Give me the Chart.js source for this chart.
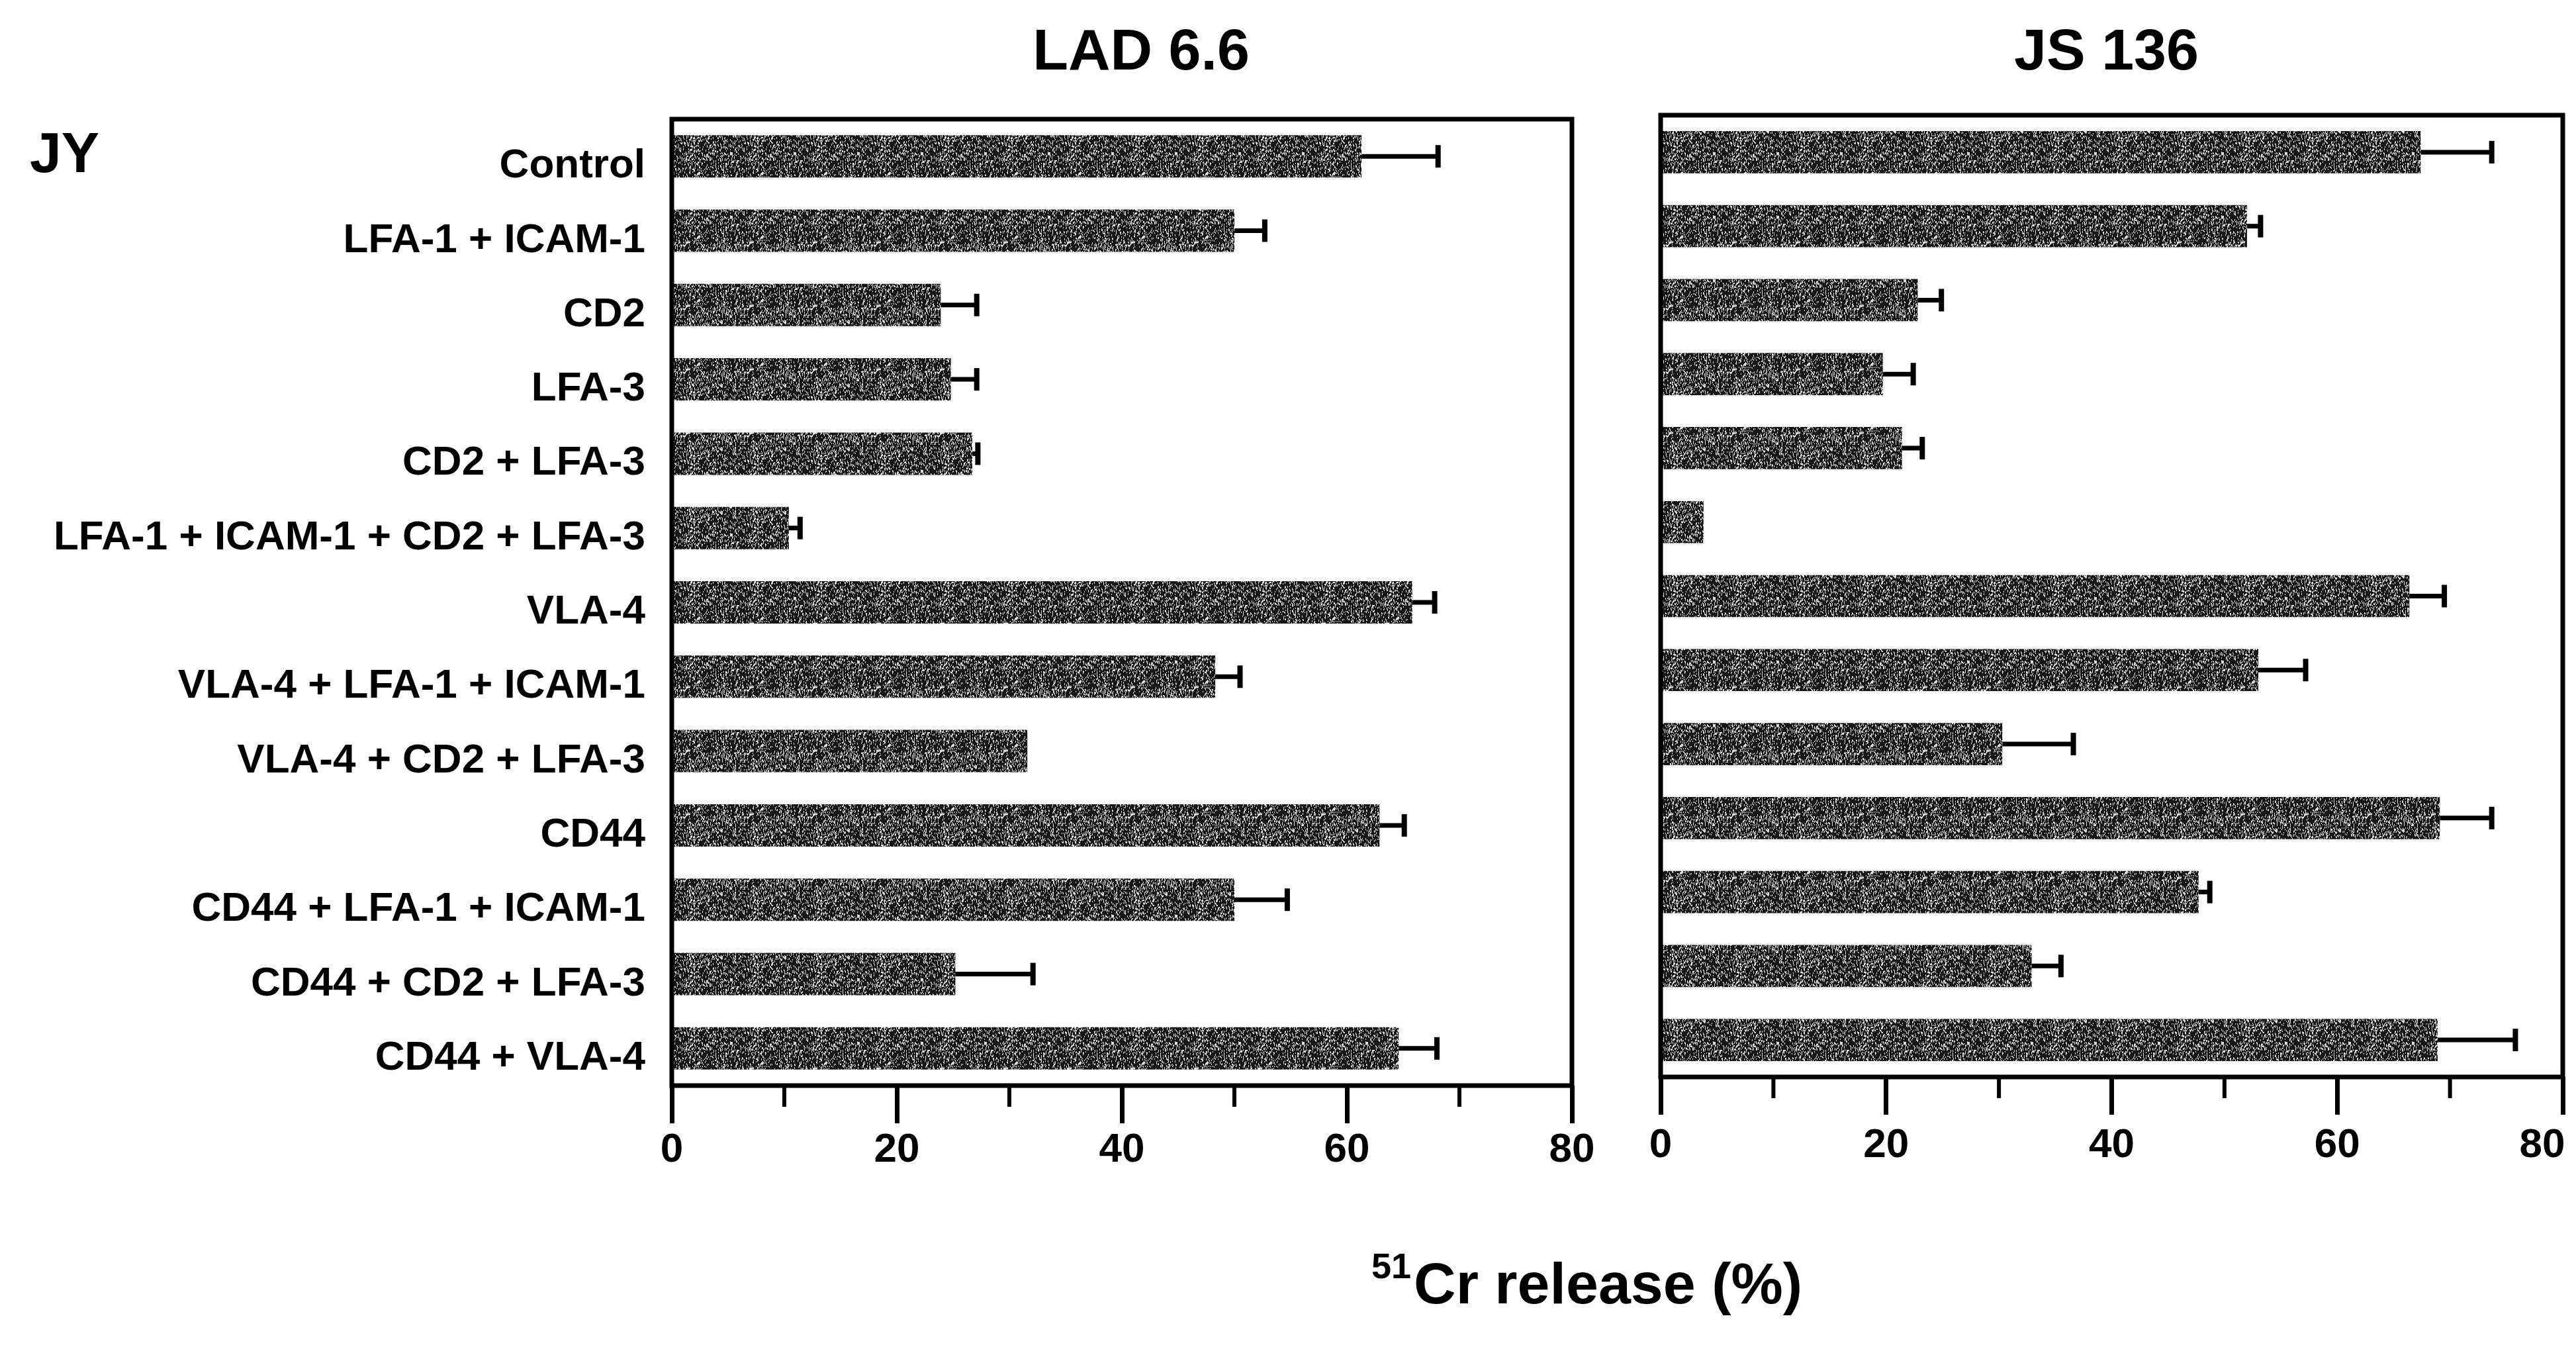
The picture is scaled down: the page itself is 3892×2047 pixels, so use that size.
<!DOCTYPE html>
<html>
<head>
<meta charset="utf-8">
<script src="https://cdn.jsdelivr.net/npm/chart.js@4.4.1/dist/chart.umd.min.js"></script>
<style>
  html, body { margin: 0; padding: 0; background: #ffffff; }
  #wrap { position: relative; width: 3892px; height: 2047px; overflow: hidden; background: #fff; }
  canvas { position: absolute; top: 0; }
  #jy { position: absolute; left: 45px; top: 187px; font: bold 86px/86px 'Liberation Sans', Arial, sans-serif; color: #000; }
  #xt { position: absolute; left: 2072px; top: 1895px; font: bold 88px/88px 'Liberation Sans', Arial, sans-serif; color: #000; white-space: nowrap; }
  #xt span { font-size: 54px; position: relative; top: -38px; margin-right: 4px; }
</style>
</head>
<body>
<div id="wrap">
  <canvas id="c1" width="2445" height="2047" style="left:0px;width:2445px;height:2047px"></canvas>
  <canvas id="c2" width="1447" height="2047" style="left:2445px;width:1447px;height:2047px"></canvas>
  <div id="jy">JY</div>
  <div id="xt"><span>51</span>Cr release (%)</div>
</div>
<script>
// ---------------- data ----------------
const categories = [
  'Control',
  'LFA-1 + ICAM-1',
  'CD2',
  'LFA-3',
  'CD2 + LFA-3',
  'LFA-1 + ICAM-1 + CD2 + LFA-3',
  'VLA-4',
  'VLA-4 + LFA-1 + ICAM-1',
  'VLA-4 + CD2 + LFA-3',
  'CD44',
  'CD44 + LFA-1 + ICAM-1',
  'CD44 + CD2 + LFA-3',
  'CD44 + VLA-4'
];
const panelTitles = ['LAD 6.6', 'JS 136'];
const ladValues = [61.3, 50.0, 23.9, 24.8, 26.7, 10.4, 65.8, 48.3, 31.6, 62.9, 50.0, 25.2, 64.6];
const ladErrors = [6.8, 2.7, 3.2, 2.3, 0.5, 1.0, 2.0, 2.2, 0.0, 2.2, 4.7, 6.9, 3.4];
const jsValues  = [67.4, 52.0, 22.8, 19.7, 21.4, 3.8, 66.4, 53.0, 30.3, 69.1, 47.7, 32.9, 68.9];
const jsErrors  = [6.3, 1.2, 2.1, 2.7, 1.8, 0.0, 3.1, 4.2, 6.3, 4.6, 1.0, 2.6, 6.9];
const xTickValues = [0, 10, 20, 30, 40, 50, 60, 70, 80];
const xTickLabels = ['0', '', '20', '', '40', '', '60', '', '80'];
const xMin = 0, xMax = 80;

// ---------------- style helpers ----------------
const FONT = "'Liberation Sans', Arial, Helvetica, sans-serif";

function makePattern() {
  const c = document.createElement('canvas');
  c.width = 96; c.height = 96;
  const g = c.getContext('2d');
  g.fillStyle = '#161616';
  g.fillRect(0, 0, 96, 96);
  g.fillStyle = '#dcdcdc';
  for (let y = 0; y < 96; y++) {
    for (let x = 0; x < 96; x++) {
      let h = Math.imul(x + 17, 374761393) ^ Math.imul(y + 31, 668265263);
      h = Math.imul(h ^ (h >>> 13), 1274126177);
      h = (h ^ (h >>> 16)) >>> 0;
      if (h % 100 < 11) g.fillRect(x, y, 1, 2 + (h % 2));
    }
  }
  return g.createPattern(c, 'repeat');
}

const panelPlugin = {
  id: 'panelDeco',
  afterDatasetsDraw(chart, args, opts) {
    const ctx = chart.ctx;
    const xs = chart.scales.x, ys = chart.scales.y;
    const ca = chart.chartArea;
    ctx.save();
    ctx.strokeStyle = '#000';
    ctx.lineCap = 'butt';
    // error bars (positive side only)
    const vals = opts.values, errs = opts.errors;
    for (let i = 0; i < vals.length; i++) {
      if (!errs[i]) continue;
      const x0 = xs.getPixelForValue(vals[i]);
      const x1 = xs.getPixelForValue(vals[i] + errs[i]);
      const y = ys.getPixelForValue(i);
      ctx.lineWidth = 7;
      ctx.beginPath(); ctx.moveTo(x0, y); ctx.lineTo(x1, y); ctx.stroke();
      ctx.lineWidth = 8;
      ctx.beginPath(); ctx.moveTo(x1, y - 17); ctx.lineTo(x1, y + 17); ctx.stroke();
    }
    // frame
    ctx.lineWidth = 7;
    ctx.strokeRect(ca.left, ca.top, ca.right - ca.left, ca.bottom - ca.top);
    // minor ticks
    ctx.lineWidth = 6;
    xTickValues.forEach((v, i) => {
      if (xTickLabels[i] !== '') return;
      const x = xs.getPixelForValue(v);
      ctx.beginPath(); ctx.moveTo(x, ca.bottom); ctx.lineTo(x, ca.bottom + 32); ctx.stroke();
    });
    // panel title
    ctx.fillStyle = '#000';
    ctx.font = 'bold 88px ' + FONT;
    ctx.textAlign = 'center';
    ctx.textBaseline = 'middle';
    ctx.fillText(opts.title, (ca.left + ca.right) / 2 + opts.dx, 81);
    ctx.restore();
  }
};

function makeChart(canvasId, values, errors, title, cfg) {
  const lastIdx = xTickLabels.length - 1;
  return new Chart(document.getElementById(canvasId), {
    type: 'bar',
    data: {
      labels: categories,
      datasets: [{
        data: values,
        backgroundColor: makePattern(),
        borderWidth: 0,
        barPercentage: 0.57,
        categoryPercentage: 1.0
      }]
    },
    options: {
      indexAxis: 'y',
      responsive: false,
      animation: false,
      devicePixelRatio: 1,
      layout: { padding: cfg.padding },
      plugins: {
        legend: { display: false },
        tooltip: { enabled: false },
        title: { display: false },
        panelDeco: { values: values, errors: errors, title: title, dx: cfg.titleDx }
      },
      scales: {
        x: {
          type: 'linear',
          min: xMin, max: xMax,
          afterBuildTicks: (s) => { s.ticks = xTickValues.map(v => ({ value: v })); },
          afterFit: (s) => { s.height = 250; s.paddingLeft = 0; s.paddingRight = 0; },
          ticks: {
            autoSkip: false,
            maxRotation: 0,
            padding: cfg.tickPad,
            color: '#000',
            font: { family: FONT, size: 62, weight: 'bold' },
            callback: (v, i) => (i === lastIdx && cfg.shiftLast) ? xTickLabels[i] + '\u2002\u2002' : xTickLabels[i]
          },
          grid: {
            drawOnChartArea: false,
            drawTicks: true,
            tickLength: 57,
            tickWidth: 7,
            tickColor: (c) => (c.index !== undefined && xTickLabels[c.index] !== '') ? '#000' : 'rgba(0,0,0,0)'
          },
          border: { display: false }
        },
        y: {
          type: 'category',
          offset: true,
          afterFit: (s) => { s.width = cfg.yWidth; },
          ticks: {
            display: cfg.showLabels,
            padding: 40,
            labelOffset: 15,
            color: '#000',
            font: { family: FONT, size: 62, weight: 'bold' }
          },
          grid: { display: false, drawTicks: false },
          border: { display: false }
        }
      }
    },
    plugins: [panelPlugin]
  });
}

makeChart('c1', ladValues, ladErrors, panelTitles[0], {
  padding: { left: 0, top: 180, right: 70, bottom: 157 },
  yWidth: 1015, showLabels: true, titleDx: 29, tickPad: 4, shiftLast: false
});
makeChart('c2', jsValues, jsErrors, panelTitles[1], {
  padding: { left: 0, top: 174, right: 20, bottom: 170 },
  yWidth: 64, showLabels: false, titleDx: -8, tickPad: 10, shiftLast: true
});
</script>
</body>
</html>
